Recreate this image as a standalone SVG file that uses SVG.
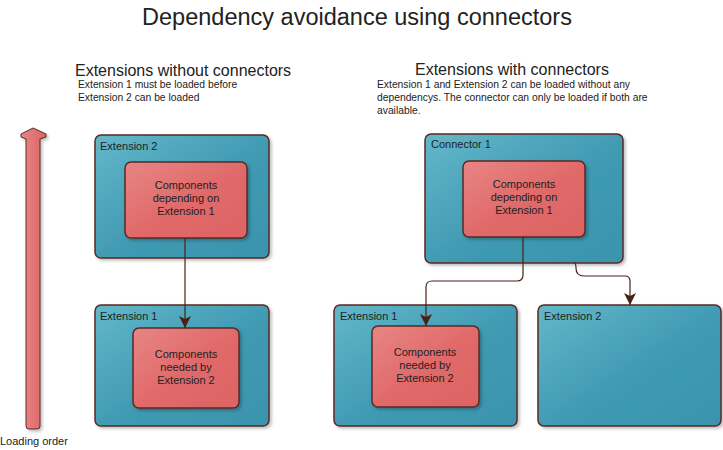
<svg xmlns="http://www.w3.org/2000/svg" width="723" height="450" viewBox="0 0 723 450">
<defs>
<linearGradient id="gT" x1="0" y1="0" x2="1" y2="1">
<stop offset="0" stop-color="#63b7ca"/>
<stop offset="0.55" stop-color="#3f9ab2"/>
<stop offset="1" stop-color="#3a94ad"/>
</linearGradient>
<linearGradient id="gR" x1="0" y1="0" x2="1" y2="1">
<stop offset="0" stop-color="#e88585"/>
<stop offset="0.55" stop-color="#e06868"/>
<stop offset="1" stop-color="#de6464"/>
</linearGradient>
<linearGradient id="gA" x1="0" y1="0" x2="1" y2="0">
<stop offset="0" stop-color="#e98787"/>
<stop offset="1" stop-color="#dc6363"/>
</linearGradient>
<filter id="sh" x="-10%" y="-10%" width="125%" height="125%">
<feDropShadow dx="2" dy="2" stdDeviation="1.5" flood-color="#000" flood-opacity="0.25"/>
</filter>
<marker id="ah" markerWidth="13" markerHeight="12" refX="12" refY="6" orient="auto" markerUnits="userSpaceOnUse" viewBox="0 0 13 12">
<path d="M0,0 L3,6 L0,12 L12,6 Z" fill="#4a2118"/>
</marker>
</defs>
<style>
text{font-family:"Liberation Sans",Arial,sans-serif;fill:#222}
.ext{fill:url(#gT);stroke:#5a2a22;stroke-width:1.5;filter:url(#sh)}
.cmp{fill:url(#gR);stroke:#5a2a22;stroke-width:1.5;filter:url(#sh)}
.lbl{font-size:11px}
.ctr{font-size:11px;text-anchor:middle}
.h{font-size:16px}
.s{font-size:10.3px}
.con{fill:none;stroke:#4a2118;stroke-width:1.2}
</style>

<text x="357" y="25" font-size="23.5" text-anchor="middle">Dependency avoidance using connectors</text>
<text class="h" x="75" y="75.5">Extensions without connectors</text>
<text class="s" x="78" y="88">Extension 1 must be loaded before</text>
<text class="s" x="78" y="101">Extension 2 can be loaded</text>
<text class="h" x="415" y="75">Extensions with connectors</text>
<text class="s" x="377" y="88">Extension 1 and Extension 2 can be loaded without any</text>
<text class="s" x="377" y="101">dependencys. The connector can only be loaded if both are</text>
<text class="s" x="377" y="114">available.</text>

<g id="loading-order">
<path d="M33,128 L46,134 L46,137 L40,139 L40,426 Q40,429 37,429 L29,429 Q26,429 26,426 L26,139 L21,137 L21,134 Z" fill="url(#gA)" stroke="#5a2a22" stroke-width="1" filter="url(#sh)"/>
<text class="lbl" x="0" y="445">Loading order</text>
</g>

<g id="left-ext2">
<rect class="ext" x="95" y="135" width="174" height="123" rx="6"/>
<text class="lbl" x="100" y="150">Extension 2</text>
</g>
<g id="left-ext2-comp">
<rect class="cmp" x="125" y="162" width="122" height="76" rx="6"/>
<text class="ctr" x="186" y="189">Components</text>
<text class="ctr" x="186" y="202">depending on</text>
<text class="ctr" x="186" y="215">Extension 1</text>
</g>

<g id="left-ext1">
<rect class="ext" x="95" y="305" width="174" height="121" rx="6"/>
<text class="lbl" x="100" y="320">Extension 1</text>
</g>
<g id="left-ext1-comp">
<rect class="cmp" x="133" y="328" width="106" height="80" rx="6"/>
<text class="ctr" x="186" y="358">Components</text>
<text class="ctr" x="186" y="371">needed by</text>
<text class="ctr" x="186" y="384">Extension 2</text>
</g>

<g id="connector1">
<rect class="ext" x="425" y="134" width="198" height="129" rx="6"/>
<text class="lbl" x="431" y="148">Connector 1</text>
</g>
<g id="connector1-comp">
<rect class="cmp" x="463" y="161" width="122" height="76" rx="6"/>
<text class="ctr" x="524" y="188">Components</text>
<text class="ctr" x="524" y="201">depending on</text>
<text class="ctr" x="524" y="214">Extension 1</text>
</g>

<g id="right-ext1">
<rect class="ext" x="334" y="305" width="183" height="121" rx="6"/>
<text class="lbl" x="340" y="320">Extension 1</text>
</g>
<g id="right-ext1-comp">
<rect class="cmp" x="372" y="326" width="107" height="81" rx="6"/>
<text class="ctr" x="425" y="356">Components</text>
<text class="ctr" x="425" y="369">needed by</text>
<text class="ctr" x="425" y="382">Extension 2</text>
</g>

<g id="right-ext2">
<rect class="ext" x="538" y="305" width="183" height="121" rx="6"/>
<text class="lbl" x="544" y="320">Extension 2</text>
</g>

<g id="connectors">
<path class="con" d="M185,238 L185,328" marker-end="url(#ah)"/>
<path class="con" d="M523,237 L523,275 Q523,281 517,281 L432,281 Q426,281 426,287 L426,326" marker-end="url(#ah)"/>
<path class="con" d="M574,263 Q576,263 576,268 Q576,276 584,276 L625,276 Q630,276 630,281 L630,305" marker-end="url(#ah)"/>
</g>
</svg>
